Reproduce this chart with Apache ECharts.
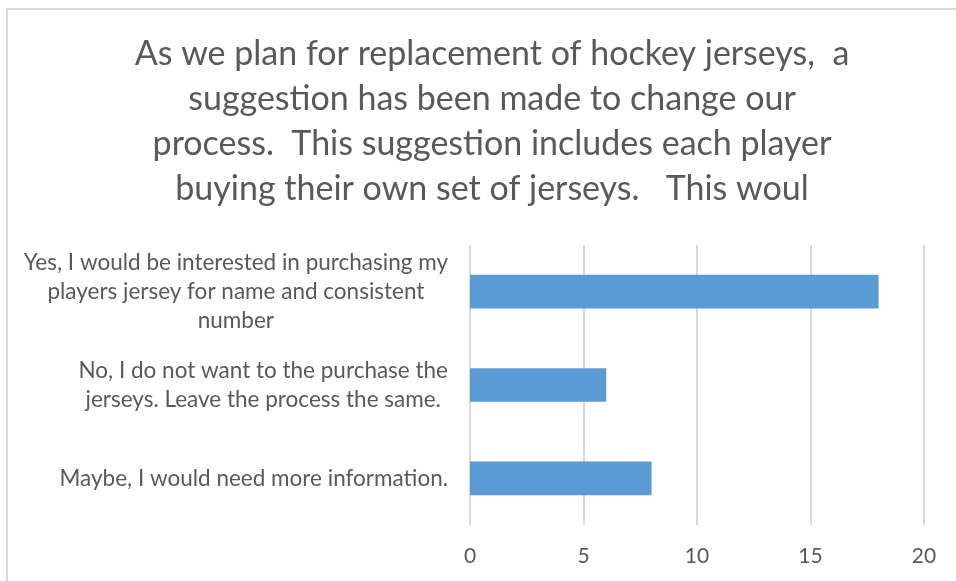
<!DOCTYPE html>
<html>
<head>
<meta charset="UTF-8">
<title></title>
<script src="https://cdn.jsdelivr.net/npm/echarts@6/dist/echarts.min.js"></script>
<style>
	body { margin: 0; background: #fff; }
	#main { width: 956px; height: 581px; }
</style>
</head>
<body>
<div id="main"></div>
<script>
	var titleText = 'As we plan for replacement of hockey jerseys,  a\nsuggestion has been made to change our\nprocess.  This suggestion includes each player\nbuying their own set of jerseys.   This woul';
	var categories = [
		'Yes, I would be interested in purchasing my\nplayers jersey for name and consistent\nnumber',
		'No, I do not want to the purchase the\njerseys. Leave the process the same.',
		'Maybe, I would need more information.'
	];
	var values = [18, 6, 8];
	var xTicks = [0, 5, 10, 15, 20];

	var chart = echarts.init(document.getElementById('main'));
	chart.setOption({
		animation: false,
		backgroundColor: '#fff',
		textStyle: { fontFamily: 'Lato' },
		title: {
			text: titleText,
			left: 487,
			top: 27,
			textAlign: 'center',
			textStyle: {
				fontFamily: 'Lato',
				fontSize: 34,
				fontWeight: 'normal',
				color: '#595959',
				lineHeight: 45
			}
		},
		graphic: [{
			type: 'rect',
			shape: { x: 7, y: 9, width: 1000, height: 1000 },
			style: { fill: 'none', stroke: '#d9d9d9', lineWidth: 2 },
			silent: true
		}],
		grid: {
			left: 470,
			right: 32,
			top: 245,
			bottom: 56,
			containLabel: false,
			outerBoundsMode: 'none'
		},
		xAxis: {
			type: 'value',
			min: xTicks[0],
			max: xTicks[xTicks.length - 1],
			interval: xTicks[1] - xTicks[0],
			axisLine: { show: false },
			axisTick: { show: false },
			axisLabel: { color: '#595959', fontSize: 21, margin: 21 },
			splitLine: { lineStyle: { color: '#d9d9d9', width: 2 } }
		},
		yAxis: {
			type: 'category',
			inverse: true,
			data: categories,
			axisLine: { show: false },
			axisTick: { show: false },
			axisLabel: {
				margin: 22,
				fontSize: 22.5,
				color: '#595959',
				lineHeight: 29,
				formatter: function (v) {
					return v.split('\n').map(function (s) { return '{c|' + s + '}'; }).join('\n');
				},
				rich: {
					c: { align: 'center', fontSize: 22.5, lineHeight: 29, color: '#595959', fontFamily: 'Lato' }
				}
			}
		},
		series: [{
			type: 'bar',
			data: values,
			barWidth: '36%',
			itemStyle: { color: '#5B9BD5' }
		}]
	});
</script>
</body>
</html>
